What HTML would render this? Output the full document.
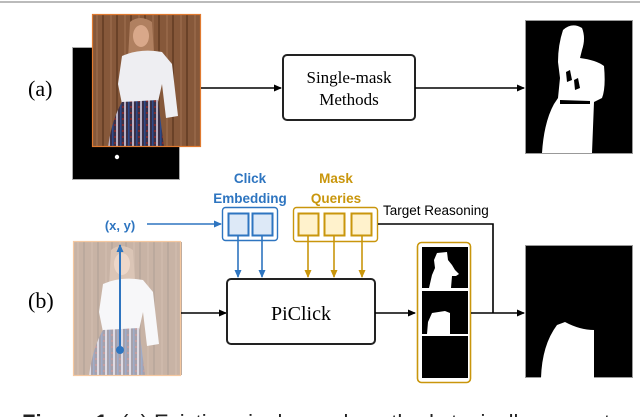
<!DOCTYPE html>
<html><head><meta charset="utf-8"><style>
html,body{margin:0;padding:0;background:#fff;width:640px;height:417px;overflow:hidden}
svg{display:block}
</style></head><body>
<svg width="640" height="417" viewBox="0 0 640 417" xmlns="http://www.w3.org/2000/svg">
<defs>
<marker id="ak" markerWidth="8" markerHeight="8" refX="7" refY="4" orient="auto" markerUnits="userSpaceOnUse"><path d="M0,0.5 L8,4 L0,7.5z" fill="#000"/></marker>
<marker id="ab" markerWidth="8" markerHeight="8" refX="7" refY="4" orient="auto" markerUnits="userSpaceOnUse"><path d="M0,0.5 L8,4 L0,7.5z" fill="#2e75c0"/></marker>
<marker id="ag" markerWidth="8" markerHeight="8" refX="7" refY="4" orient="auto" markerUnits="userSpaceOnUse"><path d="M0,0.5 L8,4 L0,7.5z" fill="#c9960c"/></marker>
<pattern id="wood" width="14" height="10" patternUnits="userSpaceOnUse"><rect width="14" height="10" fill="#86583a"/><rect x="10" width="2" height="10" fill="#6a4228"/><rect x="4" width="2" height="10" fill="#946546"/></pattern>
<pattern id="skirt" width="8" height="6" patternUnits="userSpaceOnUse"><rect width="8" height="6" fill="#3a3048"/><rect x="0" width="2" height="6" fill="#b8b0c4"/><rect x="4" width="1.5" height="6" fill="#2d4a8a"/><rect x="6" y="2" width="2" height="2" fill="#7a2a30"/></pattern>
<g id="woman">
<rect width="109" height="133" fill="url(#wood)"/>
<path d="M38,8 Q48,0 60,8 L62,40 L36,45 Z" fill="#b08060"/>
<ellipse cx="49" cy="22" rx="8" ry="11" fill="#d9a88a"/>
<path d="M30,42 Q48,34 70,38 L80,50 L86,102 L74,104 L70,70 L66,88 L30,90 L26,70 Z" fill="#eeeef2"/>
<path d="M30,88 L66,86 L72,133 L16,133 Q20,105 30,88 Z" fill="url(#skirt)"/>
</g>
</defs>
<line x1="0" y1="2" x2="640" y2="2" stroke="#bbb" stroke-width="2"/>

<text x="28" y="96" font-family="Liberation Serif,serif" font-size="22">(a)</text>
<rect x="72.5" y="47.5" width="107" height="132" fill="#000" stroke="#aaa" stroke-width="1"/>
<circle cx="117" cy="157" r="2.2" fill="#fff"/>
<use href="#woman" x="92" y="14"/>
<rect x="92.5" y="14.5" width="108" height="132" fill="none" stroke="#e07a30" stroke-width="1.2"/>
<line x1="201" y1="88" x2="281" y2="88" stroke="#000" stroke-width="1.6" marker-end="url(#ak)"/>
<rect x="283" y="55" width="132" height="65" rx="4" fill="#fff" stroke="#222" stroke-width="2"/>
<text x="349" y="83" text-anchor="middle" font-family="Liberation Serif,serif" font-size="17">Single-mask</text>
<text x="349" y="105" text-anchor="middle" font-family="Liberation Serif,serif" font-size="17">Methods</text>
<line x1="415" y1="88" x2="524" y2="88" stroke="#000" stroke-width="1.6" marker-end="url(#ak)"/>
<rect x="525.5" y="20.5" width="107" height="133" fill="#000" stroke="#999"/>
<path d="M563,30 Q572,22 582,28 Q586,38 582,50 L580,58 Q596,60 604,66 Q606,88 602,98 L594,102 L592,153 L542,153 Q544,122 554,104 L558,98 L560,78 L558,62 Q558,45 563,30Z" fill="#fff"/>
<path d="M566,72 L570,70 L572,80 L567,82 Z M574,80 L578,78 L580,88 L575,90Z M560,100 L590,101 L590,104 L560,104Z" fill="#000"/>

<text x="28" y="308" font-family="Liberation Serif,serif" font-size="22">(b)</text>
<g opacity="0.45"><use href="#woman" x="73" y="242"/></g>
<rect x="73.5" y="241.5" width="107" height="134" fill="none" stroke="#f5c8a0" stroke-width="1.2"/>
<line x1="120" y1="350" x2="120" y2="245" stroke="#2e75c0" stroke-width="2" marker-end="url(#ab)"/>
<circle cx="120" cy="350" r="4" fill="#2e75c0"/>
<text x="120" y="230" text-anchor="middle" font-family="Liberation Sans,sans-serif" font-weight="bold" font-size="13" fill="#2e75c0">(x, y)</text>
<line x1="147" y1="224" x2="221" y2="224" stroke="#2e75c0" stroke-width="1.6" marker-end="url(#ab)"/>

<text x="250" y="183" text-anchor="middle" font-family="Liberation Sans,sans-serif" font-weight="bold" font-size="13.5" fill="#2e75c0">Click</text>
<text x="250" y="203" text-anchor="middle" font-family="Liberation Sans,sans-serif" font-weight="bold" font-size="13.5" fill="#2e75c0">Embedding</text>
<rect x="222.5" y="207.5" width="55" height="33" rx="3" fill="#fff" stroke="#2e75c0" stroke-width="1.4"/>
<rect x="228.5" y="213.5" width="20" height="22" fill="#dde9f7" stroke="#2e75c0" stroke-width="2"/>
<rect x="252.5" y="213.5" width="20" height="22" fill="#dde9f7" stroke="#2e75c0" stroke-width="2"/>
<line x1="238" y1="236" x2="238" y2="277" stroke="#2e75c0" stroke-width="1.6" marker-end="url(#ab)"/>
<line x1="262" y1="236" x2="262" y2="277" stroke="#2e75c0" stroke-width="1.6" marker-end="url(#ab)"/>

<text x="336" y="183" text-anchor="middle" font-family="Liberation Sans,sans-serif" font-weight="bold" font-size="13.5" fill="#c9960c">Mask</text>
<text x="336" y="203" text-anchor="middle" font-family="Liberation Sans,sans-serif" font-weight="bold" font-size="13.5" fill="#c9960c">Queries</text>
<rect x="293.5" y="207.5" width="84" height="34" rx="3" fill="#fff" stroke="#c9960c" stroke-width="1.4"/>
<rect x="298.5" y="213.5" width="20" height="22" fill="#fff2cc" stroke="#c9960c" stroke-width="2"/>
<rect x="324.5" y="213.5" width="20" height="22" fill="#fff2cc" stroke="#c9960c" stroke-width="2"/>
<rect x="351.5" y="213.5" width="20" height="22" fill="#fff2cc" stroke="#c9960c" stroke-width="2"/>
<line x1="308" y1="236" x2="308" y2="277" stroke="#c9960c" stroke-width="1.6" marker-end="url(#ag)"/>
<line x1="334" y1="236" x2="334" y2="277" stroke="#c9960c" stroke-width="1.6" marker-end="url(#ag)"/>
<line x1="362" y1="236" x2="362" y2="277" stroke="#c9960c" stroke-width="1.6" marker-end="url(#ag)"/>

<text x="383" y="215" font-family="Liberation Sans,sans-serif" font-size="13.5" fill="#000">Target Reasoning</text>
<polyline points="378,224 493,224 493,313" fill="none" stroke="#000" stroke-width="1.6"/>

<line x1="181" y1="313" x2="226" y2="313" stroke="#000" stroke-width="1.6" marker-end="url(#ak)"/>
<rect x="227" y="279" width="148" height="65" rx="4" fill="#fff" stroke="#222" stroke-width="2"/>
<text x="301" y="320" text-anchor="middle" font-family="Liberation Serif,serif" font-size="20">PiClick</text>
<line x1="375" y1="313" x2="415" y2="313" stroke="#000" stroke-width="1.6" marker-end="url(#ak)"/>

<rect x="417.5" y="242.5" width="53" height="140" rx="4" fill="#fff" stroke="#c9960c" stroke-width="1.6"/>
<rect x="422" y="247" width="46" height="41" fill="#000"/>
<path d="M437,253 L447,252 L448,260 L452,265 L455,270 L459,274 L456,276 L452,276 L451,288 L429,288 L432,275 L435,268 L434,260Z" fill="#fff"/>
<rect x="422" y="291" width="46" height="43" fill="#000"/>
<path d="M432,313 L445,311 L450,313 L450,334 L427,334 L428,322Z" fill="#fff"/>
<rect x="422" y="336" width="46" height="42" fill="#000"/>
<line x1="471" y1="313" x2="524" y2="313" stroke="#000" stroke-width="1.6" marker-end="url(#ak)"/>

<rect x="525.5" y="245.5" width="107" height="132" fill="#000" stroke="#999"/>
<path d="M557,325 L565,322 Q580,330 594,330 L594,378 L541,378 Q542,345 557,325Z" fill="#fff"/>

<text x="22" y="430" font-family="Liberation Sans,sans-serif" font-size="22" fill="#222"><tspan font-weight="bold">Figure 1:</tspan> (a) Existing single-mask methods typically generate</text>
</svg>
</body></html>
